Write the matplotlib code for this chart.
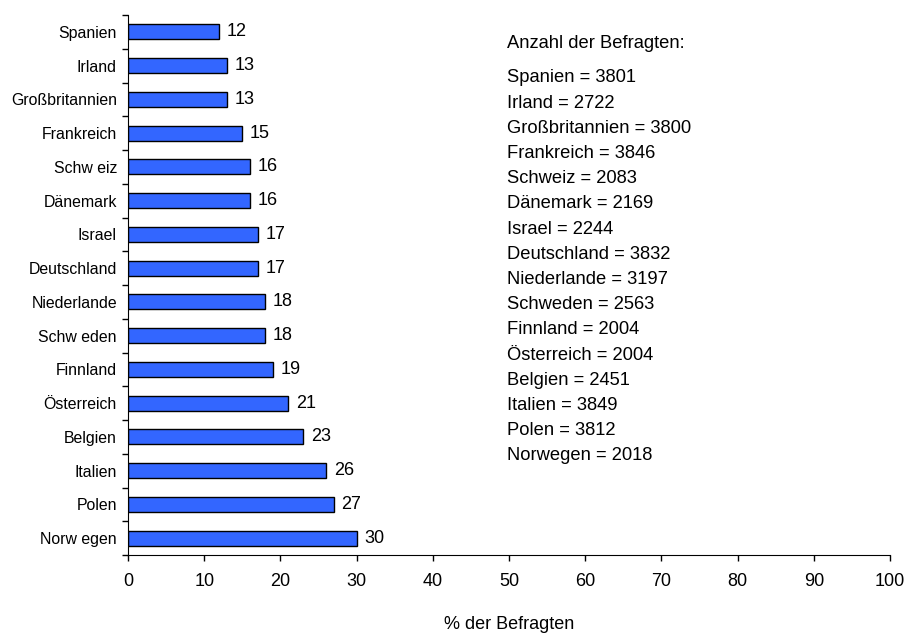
import matplotlib
matplotlib.use("Agg")
import matplotlib.pyplot as plt
import numpy as np

# Daten (von oben nach unten)
laender = ["Spanien", "Irland", "Großbritannien", "Frankreich", "Schw eiz",
           "Dänemark", "Israel", "Deutschland", "Niederlande", "Schw eden",
           "Finnland", "Österreich", "Belgien", "Italien", "Polen", "Norw egen"]
prozent = [12, 13, 13, 15, 16, 16, 17, 17, 18, 18, 19, 21, 23, 26, 27, 30]

befragte_namen = ["Spanien", "Irland", "Großbritannien", "Frankreich", "Schweiz",
                  "Dänemark", "Israel", "Deutschland", "Niederlande", "Schweden",
                  "Finnland", "Österreich", "Belgien", "Italien", "Polen", "Norwegen"]
befragte_n = [3801, 2722, 3800, 3846, 2083, 2169, 2244, 3832, 3197, 2563,
              2004, 2004, 2451, 3849, 3812, 2018]

plt.rcParams['font.family'] = ['Liberation Sans', 'DejaVu Sans']

W, H = 907, 634
fig = plt.figure(figsize=(W / 100, H / 100), dpi=100)
ax = fig.add_axes([128 / W, 1 - 555 / H, (890 - 128) / W, (555 - 15) / H])

y = np.arange(len(laender))
ax.barh(y, prozent, height=0.45, color="#3366ff", edgecolor="black", linewidth=1)

# Werte neben den Balken
for yi, v in zip(y, prozent):
    ax.text(v + 1, yi, str(v), va="center", ha="left", fontsize=13)

ax.set_xlim(0, 100)
ax.set_ylim(len(laender) - 0.5, -0.5)
ax.set_xticks(range(0, 101, 10))
ax.set_yticks(y)
ax.set_yticklabels(laender, fontsize=11.4)
ax.set_yticks(np.arange(-0.5, len(laender), 1), minor=True)
ax.tick_params(axis="y", which="major", length=0, pad=8)
ax.tick_params(axis="y", which="minor", length=4, width=1)
ax.tick_params(axis="x", length=4, width=1, pad=9, labelsize=13)

for s in ["top", "right"]:
    ax.spines[s].set_visible(False)

ax.set_xlabel("% der Befragten", fontsize=13, labelpad=19)

# Textblock rechts
fig.text(507 / W, 1 - 44 / H, "Anzahl der Befragten:", fontsize=13.2, va="center")
for i, (name, n) in enumerate(zip(befragte_namen, befragte_n)):
    fig.text(507 / W, 1 - (78 + i * 25.2) / H, f"{name} = {n}", fontsize=13.2, va="center")

fig.savefig("out.png", dpi=100)
